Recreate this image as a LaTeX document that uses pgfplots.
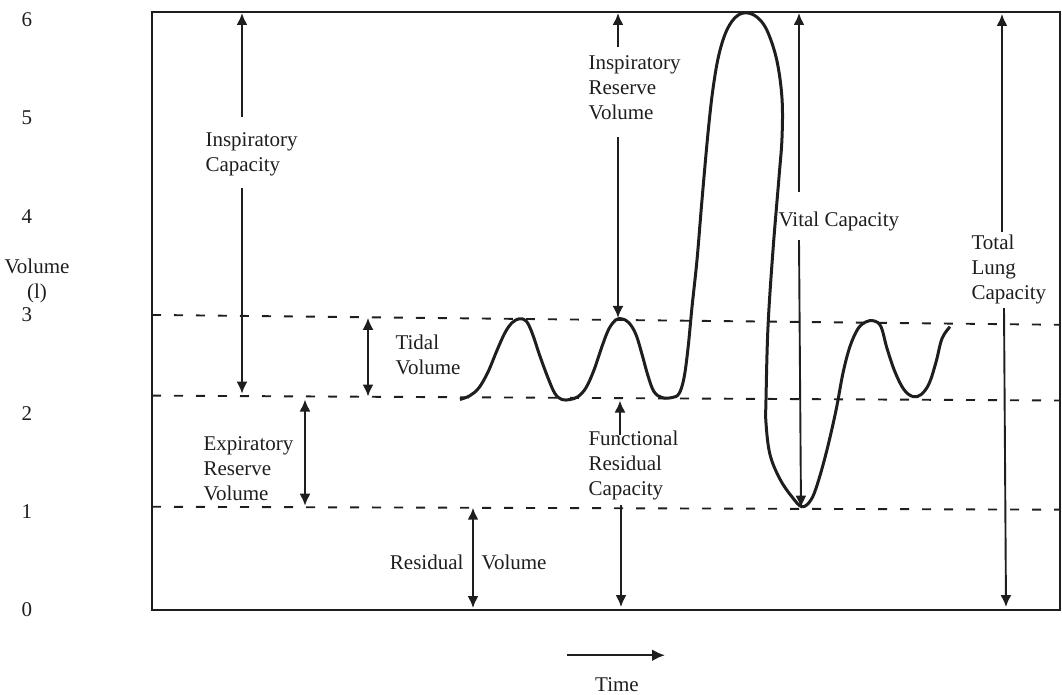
\documentclass[border=0pt]{standalone}
\usepackage{pgfplots}
\pgfplotsset{compat=1.18}
\usepackage{fontspec}
\setmainfont{Liberation Serif}
\usetikzlibrary{arrows.meta}
\definecolor{ink}{HTML}{1E1E1E}
\begin{document}
\begin{tikzpicture}[font=\fontsize{21}{25}\selectfont, text=ink]
\path[use as bounding box] (0,0) rectangle (1062pt,-695pt);
\begin{axis}[
  at={(152pt,-610pt)}, anchor=south west,
  scale only axis, width=908pt, height=598pt,
  xmin=152, xmax=1060, ymin=0, ymax=6.08,
  xtick=\empty, ytick={0,1,...,6},
  major tick length=0pt,
  yticklabel style={anchor=center, xshift=-125pt},
  /pgf/number format/assume math mode=true,
  axis line style={line width=2.6pt, color=ink},
  clip=false,
  every axis plot/.append style={ink},
  dashline/.style={line width=1.9pt, dash pattern=on 9pt off 13pt},
  arr/.style={line width=1.9pt, -{Latex[length=12pt,width=11pt]}},
  darr/.style={line width=1.9pt, {Latex[length=12pt,width=11pt]}-{Latex[length=12pt,width=11pt]}},
]
% levels
\addplot[dashline] coordinates {(152,3.00) (1060,2.90)};
\addplot[dashline] coordinates {(152,2.18) (1060,2.13)};
\addplot[dashline] coordinates {(152,1.05) (1060,1.02)};

% spirogram trace
\addplot[line width=3pt, smooth, tension=0.6] coordinates {
  (460,2.14) (470,2.18) (479,2.26) (488,2.42) (497,2.64) (505,2.82)
  (512,2.92) (519,2.96) (526,2.94) (532,2.82) (540,2.58) (548,2.36)
  (555,2.20) (562,2.14) (570,2.14) (578,2.17) (586,2.26) (594,2.44)
  (602,2.68) (609,2.86) (616,2.95) (622,2.96) (629,2.92) (636,2.80)
  (642,2.60) (648,2.38) (654,2.22) (662,2.16) (672,2.16) (679,2.20)
  (684,2.36) (688,2.66) (692,3.08) (697,3.56) (702,4.17)
  (708,4.85) (713,5.30) (719,5.65) (727,5.90) (737,6.04) (748,6.07) (759,6.01)
  (768,5.87) (777,5.58) (782,5.20) (782,4.80) (779,4.40) (773,3.66)
  (768,2.88) (766,2.14) (766,1.90) (770,1.58) (780,1.33) (792,1.15)
  (802,1.05) (811,1.12) (818,1.30) (827,1.63) (836,2.03) (843,2.41)
  (850,2.68) (858,2.86) (866,2.93) (874,2.94) (881,2.88) (887,2.66)
  (895,2.42) (904,2.24) (913,2.17) (921,2.19) (929,2.30) (936,2.52)
  (942,2.76) (950,2.88)
};

% Inspiratory Capacity
\addplot[arr] coordinates {(242,5.01) (242,6.07)};
\addplot[arr] coordinates {(242,4.29) (242,2.20)};
% Tidal Volume
\addplot[darr] coordinates {(368,2.97) (368,2.17)};
% Expiratory Reserve Volume
\addplot[darr] coordinates {(305,2.14) (305,1.06)};
% Residual Volume
\addplot[darr] coordinates {(473,1.04) (473,0.02)};
% Inspiratory Reserve Volume
\addplot[arr] coordinates {(618,5.72) (618,6.07)};
\addplot[arr] coordinates {(618,4.81) (618,2.97)};
% Functional Residual Capacity
\addplot[arr] coordinates {(620,1.78) (620,2.13)};
\addplot[arr] coordinates {(621,1.07) (621,0.03)};
% Vital Capacity
\addplot[arr] coordinates {(799,4.25) (799,6.07)};
\addplot[arr] coordinates {(799,3.76) (801,1.04)};
% Total Lung Capacity
\addplot[arr] coordinates {(1002,3.84) (1002,6.06)};
\addplot[arr] coordinates {(1004,3.07) (1006,0.03)};
% time arrow
\addplot[line width=2.4pt, -{Latex[length=13pt,width=12pt]}] coordinates {(567,-0.46) (665,-0.46)};

\node[anchor=west, align=left] at (axis cs:202,4.63) {Inspiratory\\Capacity};
\node[anchor=west, align=left] at (axis cs:585,5.31) {Inspiratory\\Reserve\\Volume};
\node[anchor=west, align=left] at (axis cs:392,2.59) {Tidal\\Volume};
\node[anchor=west, align=left] at (axis cs:200,1.44) {Expiratory\\Reserve\\Volume};
\node[anchor=west, align=left] at (axis cs:585,1.47) {Functional\\Residual\\Capacity};
\node[anchor=east] at (axis cs:467,0.48) {Residual};
\node[anchor=west] at (axis cs:478,0.48) {Volume};
\node[anchor=west] at (axis cs:775,3.95) {Vital Capacity};
\node[anchor=west, align=left] at (axis cs:968,3.46) {Total\\Lung\\Capacity};
\node[align=center] at (axis cs:37,3.35) {Volume\\(l)};
\node at (axis cs:617,-0.76) {Time};
\end{axis}
\end{tikzpicture}
\end{document}
